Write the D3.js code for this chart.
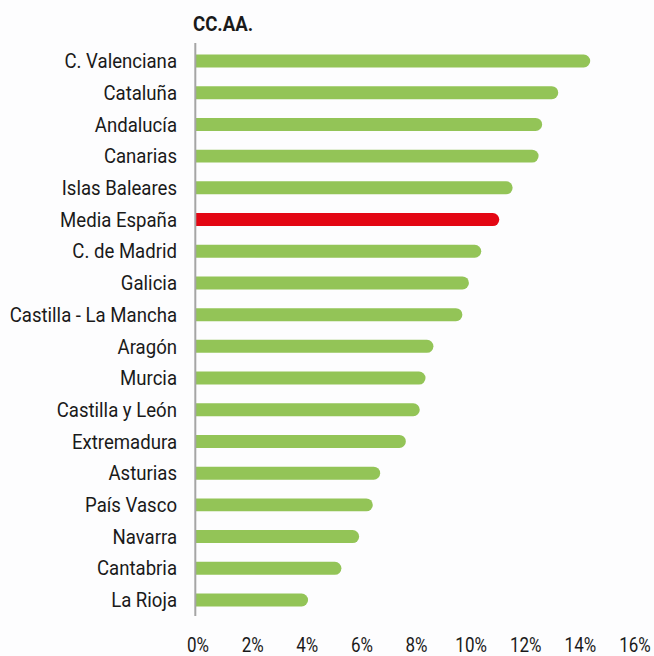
<!DOCTYPE html>
<html>
<head>
<meta charset="utf-8">
<script src="https://cdn.jsdelivr.net/npm/d3@7"></script>
<style>
  html, body { margin: 0; padding: 0; background: #fdfdfe; }
  svg { display: block; }
  text { font-family: Roboto, "Noto Sans", sans-serif; fill: #1a1a1a; }
</style>
</head>
<body>
<svg id="chart" width="654" height="656"></svg>
<script>
// Regions, ordered top to bottom, and their values (%)
const regions = [
  "C. Valenciana", "Cataluña", "Andalucía", "Canarias", "Islas Baleares",
  "Media España", "C. de Madrid", "Galicia", "Castilla - La Mancha", "Aragón",
  "Murcia", "Castilla y León", "Extremadura", "Asturias", "País Vasco",
  "Navarra", "Cantabria", "La Rioja"
];
const values = [
  14.36, 13.19, 12.60, 12.47, 11.52,
  11.03, 10.37, 9.92, 9.68, 8.62,
  8.33, 8.12, 7.61, 6.67, 6.40,
  5.90, 5.25, 4.03
];
const highlight = "Media España";
const tickValues = [0, 2, 4, 6, 8, 10, 12, 14, 16];
const title = "CC.AA.";

const svg = d3.select("#chart");
const labelSqueeze = 0.93; // horizontal compression for a condensed look
const tickSqueeze = 0.85;

const x = d3.scaleLinear().domain([0, 16]).range([198, 635]);
const y = d3.scaleBand().domain(regions).range([45, 616]).paddingInner(0.59).paddingOuter(0.3);

const data = regions.map((r, i) => ({ name: r, value: values[i] }));

// Bars: flat at the baseline, rounded at the value end
const bh = y.bandwidth();
svg.append("g").selectAll("path")
  .data(data)
  .join("path")
  .attr("d", d => {
    const x0 = x(0) - 2, x1 = x(d.value), y0 = y(d.name), r = bh / 2;
    return `M${x0},${y0}H${x1 - r}A${r},${r} 0 0 1 ${x1 - r},${y0 + bh}H${x0}Z`;
  })
  .attr("fill", d => d.name === highlight ? "#e30613" : "#93c457");

// Vertical baseline
svg.append("line")
  .attr("x1", 195.3).attr("x2", 195.3)
  .attr("y1", 43).attr("y2", 616)
  .attr("stroke", "#a5a5a5").attr("stroke-width", 2);

// Category labels
svg.append("g").selectAll("text")
  .data(data)
  .join("text")
  .attr("transform", d => `translate(177,${y(d.name) + bh / 2}) scale(${labelSqueeze},1)`)
  .attr("text-anchor", "end")
  .attr("dy", "0.36em")
  .attr("font-size", 20)
  .text(d => d.name);

// Percentage tick labels
svg.append("g").selectAll("text")
  .data(tickValues)
  .join("text")
  .attr("transform", d => `translate(${x(d)},652) scale(${tickSqueeze},1)`)
  .attr("text-anchor", "middle")
  .attr("font-size", 20)
  .text(d => d + "%");

// Title
svg.append("text")
  .attr("transform", `translate(193,31) scale(${labelSqueeze},1)`)
  .attr("font-size", 20)
  .attr("font-weight", 700)
  .text(title);
</script>
</body>
</html>
